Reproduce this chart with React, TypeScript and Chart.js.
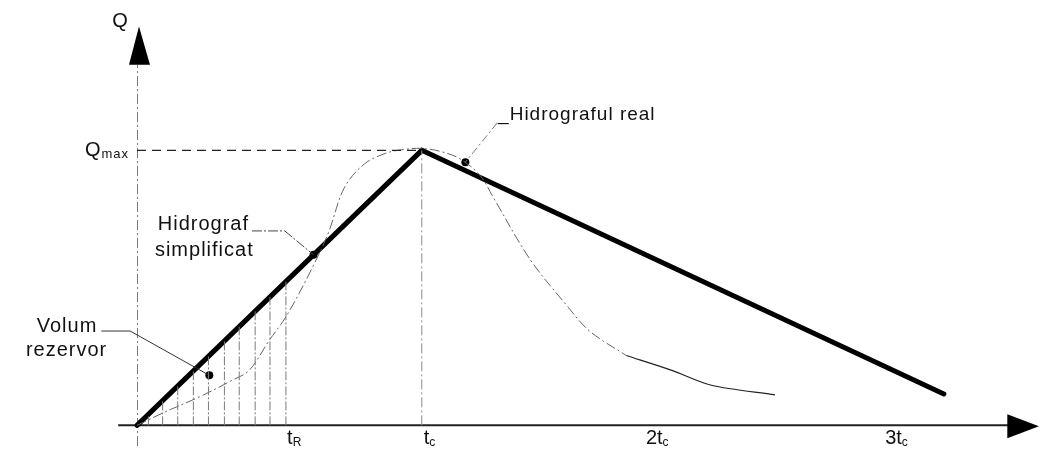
import React, { useEffect, useRef } from "react";
import { Chart, registerables } from "chart.js";

Chart.register(...registerables);

// ---- data (time in units of tc, discharge in units of Qmax) ----
const simplifiedX = [0, 1, 2.833];
const simplifiedY = [0, 1, 0.114];

const realX = [0, 0.101, 0.22, 0.334, 0.394, 0.463, 0.526, 0.613, 0.672, 0.728, 0.798, 0.875, 0.944, 1.0, 1.066, 1.136, 1.206, 1.251, 1.38, 1.509, 1.589, 1.718];
const realY = [0, 0.05, 0.104, 0.164, 0.2, 0.307, 0.4, 0.568, 0.7, 0.864, 0.95, 0.99, 1.004, 1.007, 0.996, 0.968, 0.907, 0.829, 0.604, 0.436, 0.343, 0.254];
const realTailX = [1.718, 1.878, 2.017, 2.24];
const realTailY = [0.254, 0.2, 0.146, 0.111];

const hatchX = [0.04, 0.09, 0.143, 0.198, 0.251, 0.307, 0.359, 0.415, 0.467, 0.523];

const qmax = 1;
const tc = 1;

const tickValues = [0.52, 1.0, 1.78, 2.62];
const tickMain = ["t", "t", "2t", "3t"];
const tickSub = ["R", "c", "c", "c"];

const labelTexts = ["Hidrograf", "simplificat", "Volum", "rezervor", "_Hidrograful real"];
const labelX = [0.073, 0.063, -0.352, -0.39, 1.268];
const labelY = [0.732, 0.635, 0.361, 0.272, 1.128];

const leaderSimplX = [0.404, 0.519, 0.62];
const leaderSimplY = [0.707, 0.707, 0.62];
const leaderVolX = [-0.125, -0.024, 0.254];
const leaderVolY = [0.343, 0.343, 0.182];
const leaderRealX = [1.265, 1.153];
const leaderRealY = [1.1, 0.957];

const dotX = [0.254, 0.62, 1.153];
const dotY = [0.182, 0.62, 0.957];

// axis extents
const xMin = -0.4669;
const xMax = 3.1882;
const yMin = -0.075;
const yMax = 1.5321;
const xAxisFrom = -0.066;
const xAxisTo = 3.063;
const xArrowTip = 3.167;
const yAxisFrom = -0.075;
const yAxisTo = 1.311;
const yArrowTip = 1.45;

const pts = (xs: number[], ys: number[]) => xs.map((v, i) => ({ x: v, y: ys[i] }));

const FONT = '"Liberation Sans", Arial, sans-serif';

const diagramPlugin = {
  id: "diagram",
  beforeDatasetsDraw(chart: any) {
    const { ctx } = chart;
    const xs = chart.scales.x;
    const ys = chart.scales.y;
    const px = (v: number) => xs.getPixelForValue(v);
    const py = (v: number) => ys.getPixelForValue(v);
    ctx.save();
    // y axis (dash-dot grey)
    ctx.strokeStyle = "#7a7a7a";
    ctx.lineWidth = 1;
    ctx.setLineDash([10, 3, 2, 3]);
    ctx.beginPath();
    ctx.moveTo(Math.round(px(0)) + 0.5, py(yAxisFrom));
    ctx.lineTo(Math.round(px(0)) + 0.5, py(yAxisTo));
    ctx.stroke();
    // x axis
    ctx.setLineDash([]);
    ctx.strokeStyle = "#222";
    ctx.lineWidth = 2;
    ctx.beginPath();
    ctx.moveTo(px(xAxisFrom), py(0));
    ctx.lineTo(px(xAxisTo), py(0));
    ctx.stroke();
    // x arrow
    ctx.fillStyle = "#000";
    ctx.beginPath();
    ctx.moveTo(px(xArrowTip), py(0) + 1);
    ctx.lineTo(px(xAxisTo) - 2, py(0) - 11);
    ctx.lineTo(px(xAxisTo) - 2, py(0) + 13);
    ctx.closePath();
    ctx.fill();
    // y arrow
    ctx.beginPath();
    ctx.moveTo(px(0) + 2, py(yArrowTip));
    ctx.lineTo(px(0) - 8, py(yAxisTo));
    ctx.lineTo(px(0) + 13, py(yAxisTo));
    ctx.closePath();
    ctx.fill();
    ctx.restore();
  },
  afterDatasetsDraw(chart: any) {
    const { ctx } = chart;
    const xs = chart.scales.x;
    const ys = chart.scales.y;
    const px = (v: number) => xs.getPixelForValue(v);
    const py = (v: number) => ys.getPixelForValue(v);
    ctx.save();
    ctx.fillStyle = "#111";
    ctx.textBaseline = "middle";
    ctx.textAlign = "left";
    // annotation labels
    ctx.font = `20px ${FONT}`;
    (ctx as any).letterSpacing = "1px";
    labelTexts.forEach((t, i) => {
      if (i === 4) ctx.font = `19px ${FONT}`;
      ctx.fillText(t, px(labelX[i]), py(labelY[i]));
    });
    // Q axis title
    ctx.font = `20px ${FONT}`;
    (ctx as any).letterSpacing = "0px";
    ctx.textAlign = "center";
    ctx.fillText("Q", px(0) - 17, py(yArrowTip) - 5);
    // Qmax label
    ctx.textAlign = "left";
    ctx.font = `20px ${FONT}`;
    const qx = px(0) - 52;
    ctx.fillText("Q", qx, py(qmax));
    const qw = ctx.measureText("Q").width;
    ctx.font = `13px ${FONT}`;
    (ctx as any).letterSpacing = "1px";
    ctx.fillText("max", qx + qw + 1, py(qmax) + 4);
    // tick labels
    tickValues.forEach((v, i) => {
      ctx.font = `20px ${FONT}`;
      (ctx as any).letterSpacing = "0px";
      const x0 = px(v) + 2;
      ctx.fillText(tickMain[i], x0, py(0) + 13);
      const w = ctx.measureText(tickMain[i]).width;
      ctx.font = `12px ${FONT}`;
      ctx.fillText(tickSub[i], x0 + w, py(0) + 17);
    });
    ctx.restore();
  },
};

export default function App() {
  const ref = useRef<HTMLCanvasElement | null>(null);
  useEffect(() => {
    document.body.style.margin = "0";
    if (!ref.current) return;
    const lineDs = (data: any[], color: string, width: number, dash: number[] = []) => ({
      data,
      showLine: true,
      borderColor: color,
      backgroundColor: color,
      borderWidth: width,
      borderDash: dash,
      pointRadius: 0,
      fill: false,
      tension: 0,
    });
    const datasets: any[] = [];
    hatchX.forEach((h) => {
      datasets.push(lineDs(pts([h, h], [0, h]), "#7a7a7a", 1, [9, 2, 2, 2]));
    });
    datasets.push(lineDs(pts([0, tc], [qmax, qmax]), "#222", 1.3, [9, 6]));
    datasets.push(lineDs(pts([tc, tc], [0, qmax]), "#8a8a8a", 1, [10, 3, 2, 3]));
    datasets.push({ ...lineDs(pts(realX, realY), "#666", 1, [10, 3, 2, 3]), tension: 0.35 });
    datasets.push({ ...lineDs(pts(realTailX, realTailY), "#222", 1.2), tension: 0.3 });
    datasets.push(lineDs(pts(leaderSimplX, leaderSimplY), "#444", 1, [10, 2, 2, 2]));
    datasets.push(lineDs(pts(leaderVolX, leaderVolY), "#333", 1));
    datasets.push(lineDs(pts(leaderRealX, leaderRealY), "#777", 1, [8, 3, 2, 3]));
    datasets.push({ ...lineDs(pts(simplifiedX, simplifiedY), "#000", 5), borderCapStyle: "round", borderJoinStyle: "miter" });
    datasets.push({
      data: pts(dotX, dotY),
      showLine: false,
      pointRadius: 4,
      pointBackgroundColor: "#000",
      pointBorderColor: "#000",
      pointBorderWidth: 0,
    });
    const chart = new Chart(ref.current, {
      type: "scatter",
      data: { datasets },
      options: {
        animation: false,
        responsive: false,
        events: [],
        layout: { padding: 0 },
        plugins: { legend: { display: false }, tooltip: { enabled: false } },
        scales: {
          x: { type: "linear", min: xMin, max: xMax, display: false },
          y: { type: "linear", min: yMin, max: yMax, display: false },
        },
      },
      plugins: [diagramPlugin],
    } as any);
    return () => chart.destroy();
  }, []);
  return (
    <div style={{ width: 1049, height: 450, background: "#fff" }}>
      <canvas ref={ref} width={1049} height={450} style={{ display: "block" }} />
    </div>
  );
}
